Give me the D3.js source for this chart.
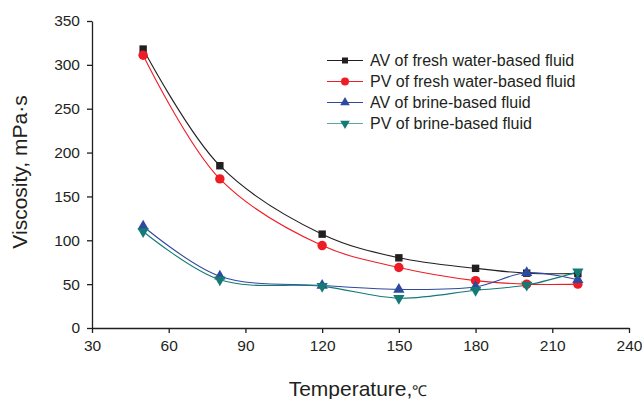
<!DOCTYPE html>
<html><head><meta charset="utf-8">
<script src="https://cdn.jsdelivr.net/npm/d3@7"></script>
<style>body{margin:0;background:#fff}svg{display:block}text{font-family:"Liberation Sans",Arial,sans-serif}</style>
</head><body><svg id="c" width="642" height="399"></svg>
<script>
const temps = [50, 80, 120, 150, 180, 200, 220];
const avFresh = [318, 185, 107, 80, 68, 62.5, 62];
const pvFresh = [311, 170, 94, 69, 54, 50, 50];
const avBrine = [116, 59, 48.5, 44, 47, 63, 55];
const pvBrine = [110, 55, 47.5, 34, 43, 49, 64];
const seriesNames = ["AV of fresh water-based fluid","PV of fresh water-based fluid","AV of brine-based fluid","PV of brine-based fluid"];
const seriesColors = ["#231f20","#ee1c25","#2e4a9e","#137a74"];
const legendLineColors = ["#231f20","#ee1c25","#2e4a9e","#5aa9a3"];
const seriesSymbols = [d3.symbolSquare, d3.symbolCircle, d3.symbolTriangle, "down"];
const xTicks = [30,60,90,120,150,180,210,240];
const yTicks = [0,50,100,150,200,250,300,350];

const svg = d3.select("#c");
const x = d3.scaleLinear().domain([30,240]).range([92,629]);
const y = d3.scaleLinear().domain([0,350]).range([328,21]);

const xAxis = svg.append("g").attr("transform","translate(0,328)")
  .call(d3.axisBottom(x).tickValues(xTicks).tickSize(5).tickPadding(7).tickSizeOuter(0));
const yAxis = svg.append("g").attr("transform","translate(92,0)")
  .call(d3.axisLeft(y).tickValues(yTicks).tickSize(5).tickPadding(7).tickSizeOuter(0));
[xAxis,yAxis].forEach(a=>{
  a.selectAll("path,line").attr("stroke","#231f20").attr("stroke-width",1.3);
  a.selectAll("text").attr("fill","#231f20").style("font-size","15.5px");
});

const all = [avFresh,pvFresh,avBrine,pvBrine];
const markerSizes = [55, 70, 55, 55];
const legendSizes = [36, 50, 40, 40];
function sym(i, size){
  const s = seriesSymbols[i];
  if (s === "down") return d3.symbol(d3.symbolTriangle, size)();
  return d3.symbol(s, size)();
}
const line = d3.line().x((d,i)=>x(temps[i])).y(d=>y(d)).curve(d3.curveCatmullRom.alpha(0.5));
all.forEach((vals,i)=>{
  svg.append("path").attr("d",line(vals)).attr("fill","none")
    .attr("stroke",seriesColors[i]).attr("stroke-width",1.1);
});
all.forEach((vals,i)=>{
  svg.append("g").selectAll("path").data(vals).join("path")
    .attr("d",sym(i, markerSizes[i]))
    .attr("transform",(d,j)=>`translate(${x(temps[j])},${y(d)})${seriesSymbols[i]==="down"?" rotate(180)":""}`)
    .attr("fill",seriesColors[i]);
});

// legend
const lg = svg.append("g");
seriesNames.forEach((n,i)=>{
  const yy = 60.5 + i*21;
  lg.append("line").attr("x1",327).attr("x2",363).attr("y1",yy).attr("y2",yy)
    .attr("stroke",legendLineColors[i]).attr("stroke-width",1.1);
  lg.append("path").attr("d",sym(i, legendSizes[i]))
    .attr("transform",`translate(345,${yy})${seriesSymbols[i]==="down"?" rotate(180)":""}`)
    .attr("fill",seriesColors[i]);
  lg.append("text").attr("x",370).attr("y",yy+5.5).text(n)
    .attr("fill","#231f20").style("font-size","16px");
});

svg.append("text").attr("transform","translate(27,172) rotate(-90)")
  .attr("text-anchor","middle").attr("fill","#231f20").style("font-size","21px")
  .text("Viscosity, mPa·s");
const xl = svg.append("text").attr("x",358).attr("y",396).attr("text-anchor","middle")
  .attr("fill","#231f20").style("font-size","21px");
xl.append("tspan").text("Temperature,");
xl.append("tspan").style("font-size","15px").text("℃");
</script></body></html>
